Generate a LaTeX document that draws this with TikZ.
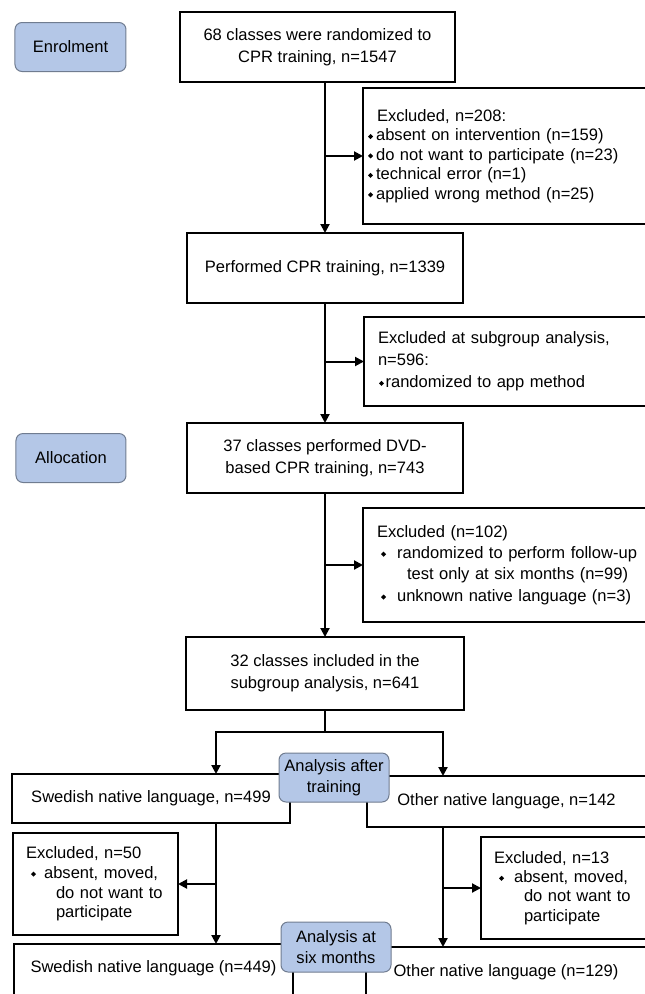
\documentclass[tikz,border=0pt]{standalone}
\usepackage{fontspec}
\setmainfont{Liberation Sans}
\usepackage{graphicx}
\usepackage{xcolor}
\usepackage{tikz}
\usetikzlibrary{arrows.meta,positioning}
\setlength{\parindent}{0pt}
\definecolor{phasefill}{RGB}{180,199,231}
\definecolor{phaseline}{RGB}{112,124,144}
\newcommand{\bul}{\raisebox{1.8bp}{\rotatebox{45}{\rule{3.6bp}{3.6bp}}}}

\begin{document}
\begin{tikzpicture}[
  x=1bp, y=-1bp,
  font=\fontsize{16.6}{20}\selectfont,
  box/.style={draw, line width=2bp, outer sep=0pt, inner sep=0pt, align=center, font=\fontsize{16.6}{22}\selectfont},
  excl/.style={box, anchor=north west, align=left, inner xsep=14bp},
  phase/.style={draw=phaseline, fill=phasefill, line width=1bp, rounded corners=7bp, outer sep=0pt, inner sep=0pt,
    align=center, minimum width=110bp, minimum height=49bp, font=\fontsize{16.6}{21}\selectfont},
  arrow/.style={-{Triangle[length=9bp,width=9bp]}, line width=2bp}
]
\useasboundingbox (0,0) rectangle (645,994);
\clip (0,0) rectangle (645,994);

\node[box, minimum width=275bp, minimum height=70bp] (rand) at (317.5,47) {68 classes were randomized to\\CPR training, n=1547};
\node[box, below=151bp of rand, xshift=7.5bp, minimum width=276bp, minimum height=70bp] (perf) {Performed CPR training, n=1339};
\node[box, below=120bp of perf, minimum width=276bp, minimum height=70bp] (dvd) {37 classes performed DVD-\\based CPR training, n=743};
\node[box, below=144bp of dvd, minimum width=278bp, minimum height=73bp] (sub) {32 classes included in the\\subgroup analysis, n=641};

\node[phase, minimum width=111bp, left=54bp of rand] (enrol) {Enrolment};
\node[phase, left=61bp of dvd] (alloc) {Allocation};

\node[excl, minimum width=320bp, minimum height=136bp, text width=292bp, font=\fontsize{16.6}{19.5}\selectfont] (exc1) at (363,88)
  {Excluded, n=208:\\
   \hspace*{-9bp}\bul\hspace{3bp}absent on intervention (n=159)\\
   \hspace*{-9bp}\bul\hspace{3bp}do not want to participate (n=23)\\
   \hspace*{-9bp}\bul\hspace{3bp}technical error (n=1)\\
   \hspace*{-9bp}\bul\hspace{3bp}applied wrong method (n=25)};
\node[excl, minimum width=320bp, minimum height=89bp, text width=292bp] (exc2) at (364,317)
  {Excluded at subgroup analysis,\\
   n=596:\\
   \hspace*{1bp}\bul\hspace{1.5bp}randomized to app method};
\node[excl, minimum width=320bp, minimum height=114bp, text width=292bp, font=\fontsize{16.6}{21.5}\selectfont] (exc3) at (363,508)
  {Excluded (n=102)\\
   \hspace*{4bp}\bul\hspace{11bp}randomized to perform follow-up\\
   \hspace*{30bp}test only at six months (n=99)\\
   \hspace*{4bp}\bul\hspace{11bp}unknown native language (n=3)};

\node[box, anchor=north west, minimum width=278bp, minimum height=49bp] (swe1) at (12,774) {Swedish native language, n=499};
\node[box, anchor=north west, minimum width=279bp, minimum height=51bp] (oth1) at (367,776) {Other native language, n=142};

\node[excl, inner xsep=13bp, minimum width=165bp, minimum height=102bp, text width=139bp, font=\fontsize{16.6}{19.7}\selectfont] (exc50) at (13,833)
  {Excluded, n=50\\
   \hspace*{5bp}\bul\hspace{8bp}absent, moved,\\
   \hspace*{30bp}do not want to\\
   \hspace*{30bp}participate};
\node[excl, inner xsep=13bp, minimum width=200bp, minimum height=102bp, text width=174bp, font=\fontsize{16.6}{19.3}\selectfont] (exc13) at (481,837)
  {Excluded, n=13\\
   \hspace*{5bp}\bul\hspace{10bp}absent, moved,\\
   \hspace*{30bp}do not want to\\
   \hspace*{30bp}participate};

\node[box, anchor=north west, minimum width=279bp, text height=28.5bp, text depth=40bp] (swe2) at (14,944) {Swedish native language (n=449)};
\node[box, anchor=north west, minimum width=280bp, text height=29.5bp, text depth=40bp] (oth2) at (366,947) {Other native language (n=129)};

\coordinate (splitl) at (216,732);
\coordinate (splitr) at (443,732);

\draw[arrow] (perf |- rand.south) -- (perf);
\draw[arrow] (perf) -- (dvd);
\draw[arrow] (dvd) -- (sub);
\draw[arrow] (exc1.west -| perf) -- (exc1.west);
\draw[arrow] (exc2.west -| perf) -- (exc2.west);
\draw[arrow] (exc3.west -| dvd) -- (exc3.west);
\draw[arrow] (sub) |- (splitl) -- (splitl |- swe1.north);
\draw[arrow] (sub) |- (splitr) -- (splitr |- oth1.north);
\draw[arrow] (splitl |- swe1.south) -- (splitl |- swe2.north);
\draw[arrow] (splitr |- oth1.south) -- (splitr |- oth2.north);
\draw[arrow] (splitl |- exc50.east) -- (exc50.east);
\draw[arrow] (splitr |- exc13.west) -- (exc13.west);

\node[phase] (after) at (334,777.5) {Analysis after\\training};
\node[phase, minimum height=50bp] (six) at (336,947) {Analysis at\\six months};
\end{tikzpicture}
\end{document}
